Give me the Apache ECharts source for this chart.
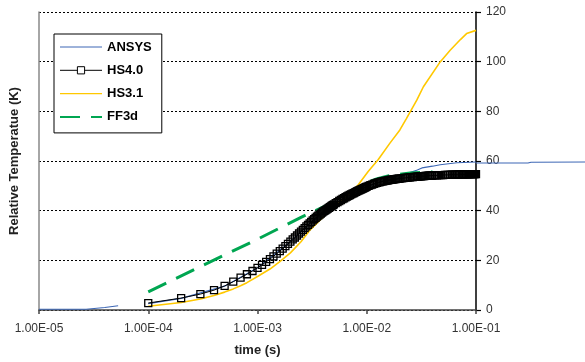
<!DOCTYPE html>
<html>
<head>
<meta charset="utf-8">
<script src="https://cdn.jsdelivr.net/npm/echarts@6/dist/echarts.min.js"></script>
<style>
  html, body { margin: 0; padding: 0; background: #fff; }
  #chart { width: 585px; height: 362px; }
</style>
</head>
<body>
<div id="chart"></div>
<script>
// Tick labels for the logarithmic time axis (one per decade, 1e-5 .. 1e-1)
const timeTickLabels = ['1.00E-05', '1.00E-04', '1.00E-03', '1.00E-02', '1.00E-01'];
const seriesNames = ['ANSYS', 'HS4.0', 'HS3.1', 'FF3d'];

// ANSYS: [time (s), relative temperature (K)]; null breaks the curve
const ansysData = [
  [1.0e-5, 0.3], [1.5e-5, 0.3], [2.0e-5, 0.3], [2.7e-5, 0.3], [4.0e-5, 1.0], [5.3e-5, 1.7],
  null,
  [1.0e-4, 2.6], [2.0e-4, 4.7], [5.0e-4, 9.6], [1.0e-3, 17.0], [2.0e-3, 27.5], [3.0e-3, 34.8],
  [5.0e-3, 42.5], [1.0e-2, 49.7], [1.4e-2, 51.9], [1.9e-2, 52.8], [2.2e-2, 54.5], [2.9e-2, 56.4],
  [3.2e-2, 57.2], [4.0e-2, 57.9], [4.7e-2, 58.5], [6.7e-2, 59.3], [0.1, 59.6]
];
// ANSYS run continues past the last labelled decade (drawn beyond the right axis)
const ansysTailData = [[0.1, 59.6], [0.3, 59.6], [0.32, 59.9], [1.0, 60.0]];

// HS4.0: [time (ms), relative temperature (K)]
const hs40Data = [
  [0.1, 2.8], [0.2, 4.8], [0.3, 6.4], [0.4, 8.0], [0.5, 9.7], [0.6, 11.4], [0.7, 13.0], [0.8, 14.4], [0.9, 15.7], [1.0, 17.0],
  [1.1, 18.2], [1.2, 19.4], [1.3, 20.5], [1.4, 21.6], [1.5, 22.7], [1.6, 23.7], [1.7, 24.7], [1.8, 25.7], [1.9, 26.6], [2.0, 27.5],
  [2.1, 28.4], [2.2, 29.2], [2.3, 30.0], [2.4, 30.8], [2.5, 31.6], [2.6, 32.3], [2.7, 33.0], [2.8, 33.7], [2.9, 34.3], [3.0, 34.9],
  [3.1, 35.5], [3.2, 36.1], [3.3, 36.6], [3.4, 37.1], [3.5, 37.6], [3.6, 38.0], [3.7, 38.4], [3.8, 38.8], [3.9, 39.2], [4.0, 39.6],
  [4.1, 39.9], [4.2, 40.2], [4.3, 40.5], [4.4, 40.8], [4.5, 41.1], [4.6, 41.4], [4.7, 41.7], [4.8, 42.0], [4.9, 42.2], [5.0, 42.5],
  [5.2, 43.0], [5.4, 43.4], [5.6, 43.9], [5.8, 44.3], [6.0, 44.7], [6.2, 45.0], [6.4, 45.4], [6.6, 45.7], [6.8, 46.0], [7.0, 46.3],
  [7.2, 46.6], [7.4, 46.9], [7.6, 47.1], [7.8, 47.4], [8.0, 47.6], [8.2, 47.9], [8.4, 48.1], [8.6, 48.3], [8.8, 48.5], [9.0, 48.7],
  [9.2, 48.9], [9.4, 49.1], [9.6, 49.3], [9.8, 49.5], [10, 49.7], [10.4, 50.0], [10.8, 50.3], [11.2, 50.5], [11.6, 50.8], [12.0, 51.0],
  [12.4, 51.2], [12.8, 51.4], [13.2, 51.5], [13.6, 51.7], [14.0, 51.8], [14.4, 51.9], [14.8, 52.0], [15.2, 52.1], [15.6, 52.2], [16.0, 52.3],
  [16.4, 52.4], [16.8, 52.5], [17.2, 52.5], [17.6, 52.6], [18.0, 52.7], [18.4, 52.7], [18.8, 52.8], [19.2, 52.8], [19.6, 52.9], [20, 52.9],
  [20.8, 53.0], [21.6, 53.1], [22.4, 53.2], [23.2, 53.3], [24.0, 53.3], [24.8, 53.4], [25.6, 53.5], [26.4, 53.5], [27.2, 53.6], [28.0, 53.6],
  [28.8, 53.7], [29.6, 53.7], [30.4, 53.8], [31.2, 53.8], [32.0, 53.9], [32.8, 53.9], [33.6, 53.9], [34.4, 54.0], [35.2, 54.0], [36.0, 54.0],
  [36.8, 54.1], [37.6, 54.1], [38.4, 54.1], [39.2, 54.1], [40, 54.1], [42, 54.2], [44, 54.2], [46, 54.3], [48, 54.3], [50, 54.3],
  [52, 54.4], [54, 54.4], [56, 54.4], [58, 54.4], [60, 54.5], [62, 54.5], [64, 54.5], [66, 54.5], [68, 54.5], [70, 54.6],
  [72, 54.6], [74, 54.6], [76, 54.6], [78, 54.6], [80, 54.6], [82, 54.6], [84, 54.6], [86, 54.7], [88, 54.7], [90, 54.7],
  [92, 54.7], [94, 54.7], [96, 54.7], [98, 54.7], [100, 54.7]
];

// HS3.1: [time (s), relative temperature (K)]
const hs31Data = [
  [1.0e-4, 1.5], [2.0e-4, 3.0], [3.0e-4, 4.4], [4.0e-4, 5.8], [5.0e-4, 7.2], [6.0e-4, 8.5], [7.0e-4, 9.8],
  [8.0e-4, 11.0], [1.0e-3, 13.5], [1.3e-3, 16.5], [1.6e-3, 19.5], [2.0e-3, 23.0], [2.5e-3, 27.5],
  [3.0e-3, 32.0], [4.0e-3, 37.5], [5.0e-3, 41.5], [6.0e-3, 44.3], [7.0e-3, 46.8], [8.4e-3, 50.5],
  [1.03e-2, 55.8], [1.27e-2, 60.5], [1.63e-2, 67.2], [2.01e-2, 72.5], [2.3e-2, 77.0], [2.87e-2, 84.5],
  [3.3e-2, 89.9], [4.7e-2, 99.9], [5.8e-2, 104.6], [7.2e-2, 108.9], [8.2e-2, 111.3], [0.1, 112.6]
];

// FF3d: [time (s), relative temperature (K)]
const ff3dData = [
  [1.0e-4, 7.3], [3.0e-4, 17.5], [1.0e-3, 28.5], [2.5e-3, 37.3], [5.0e-3, 43.5], [7.0e-3, 47.3],
  [1.0e-2, 51.2], [1.25e-2, 52.9], [1.6e-2, 54.1], [2.5e-2, 55.2], [4.0e-2, 55.6]
];

const FONT = '"Liberation Sans", Arial, sans-serif';
const ANSYS_BLUE = '#3d67b5';

// legend entries for plain lines carry no marker
const hiddenMarker = { color: 'rgba(0,0,0,0)', borderColor: 'rgba(0,0,0,0)', borderWidth: 0 };

const chart = echarts.init(document.getElementById('chart'), null, { renderer: 'canvas' });

chart.setOption({
  animation: false,
  backgroundColor: '#ffffff',
  grid: [
    { left: 39, right: 109, top: 12, bottom: 50, containLabel: false },
    // narrow strip to the right of the value axis, used by the ANSYS tail only
    { left: 476, right: 0, top: 12, bottom: 50, containLabel: false }
  ],
  legend: {
    data: [
      { name: 'ANSYS', itemStyle: hiddenMarker, lineStyle: { width: 1 } },
      { name: 'HS4.0', itemStyle: { color: '#fff', borderColor: '#000', borderWidth: 1 }, lineStyle: { width: 1 } },
      { name: 'HS3.1', itemStyle: hiddenMarker, lineStyle: { width: 1.4 } },
      { name: 'FF3d', itemStyle: hiddenMarker }
    ],
    orient: 'vertical',
    left: 54,
    top: 34,
    padding: [6.5, 10, 9.5, 5],
    itemGap: 10.3,
    itemWidth: 42,
    itemHeight: 9,
    backgroundColor: '#ffffff',
    borderColor: '#000000',
    borderWidth: 1,
    textStyle: { fontFamily: FONT, fontSize: 13, fontWeight: 'bold', color: '#000' }
  },
  xAxis: [
    {
      type: 'log',
      gridIndex: 0,
      logBase: 10,
      min: 1e-5,
      max: 1e-1,
      name: 'time (s)',
      nameLocation: 'middle',
      nameGap: 34,
      nameTextStyle: { fontFamily: FONT, fontSize: 13, fontWeight: 'bold', color: '#222' },
      axisLine: { show: true, onZero: false, lineStyle: { color: '#444', width: 1.5 } },
      axisTick: { show: true, inside: false, length: 4, lineStyle: { color: '#444', width: 1.5 } },
      minorTick: { show: false },
      splitLine: { show: false },
      axisLabel: {
        margin: 13,
        fontFamily: FONT, fontSize: 12, color: '#333',
        formatter: function (value) {
          const e = Math.round(Math.log10(value));
          return timeTickLabels[e + 5] || '';
        }
      }
    },
    {
      type: 'log',
      gridIndex: 1,
      logBase: 10,
      min: 0.1,
      max: 1,
      show: false
    }
  ],
  yAxis: [
    {
      type: 'value',
      gridIndex: 0,
      position: 'right',
      min: 0, max: 120, interval: 20,
      axisLine: { show: true, onZero: false, lineStyle: { color: '#000', width: 1.5 } },
      axisTick: { show: true, inside: false, length: 5, lineStyle: { color: '#000', width: 1.2 } },
      axisLabel: { margin: 10, fontFamily: FONT, fontSize: 12, color: '#333' },
      splitLine: { show: true, lineStyle: { color: '#000', width: 1, type: [2, 2] } }
    },
    {
      type: 'value',
      gridIndex: 0,
      position: 'left',
      min: 0, max: 120, interval: 20,
      name: 'Relative Temperatue (K)',
      nameLocation: 'middle',
      nameGap: 18,
      nameRotate: 90,
      nameTextStyle: { fontFamily: FONT, fontSize: 13, fontWeight: 'bold', color: '#222' },
      axisLine: { show: true, onZero: false, lineStyle: { color: '#888', width: 1.5 } },
      axisTick: { show: false },
      axisLabel: { show: false },
      splitLine: { show: false }
    },
    {
      type: 'value',
      gridIndex: 1,
      min: 0, max: 120,
      show: false
    }
  ],
  series: [
    {
      name: 'ANSYS',
      type: 'line',
      xAxisIndex: 0, yAxisIndex: 0,
      data: ansysData,
      connectNulls: false,
      symbol: 'none',
      z: 2,
      color: ANSYS_BLUE,
      lineStyle: { color: ANSYS_BLUE, width: 1.2 }
    },
    {
      name: 'ANSYS',
      type: 'line',
      xAxisIndex: 1, yAxisIndex: 2,
      data: ansysTailData,
      symbol: 'none',
      z: 2,
      color: ANSYS_BLUE,
      lineStyle: { color: ANSYS_BLUE, width: 1.2 }
    },
    {
      name: 'HS4.0',
      type: 'line',
      xAxisIndex: 0, yAxisIndex: 0,
      data: hs40Data.map(p => [p[0] / 1000, p[1]]),
      symbol: 'rect',
      symbolSize: 7,
      showSymbol: true,
      z: 6,
      color: '#000',
      lineStyle: { color: '#000', width: 1 },
      itemStyle: { color: 'rgba(255,255,255,0)', borderColor: '#000', borderWidth: 1.3 }
    },
    {
      name: 'HS3.1',
      type: 'line',
      xAxisIndex: 0, yAxisIndex: 0,
      data: hs31Data,
      symbol: 'none',
      z: 4,
      color: '#ffc800',
      lineStyle: { color: '#ffc800', width: 1.6 }
    },
    {
      name: 'FF3d',
      type: 'line',
      xAxisIndex: 0, yAxisIndex: 0,
      data: ff3dData,
      symbol: 'none',
      z: 3,
      color: '#00a651',
      lineStyle: { color: '#00a651', width: 3, type: [20, 11] }
    }
  ]
});
</script>
</body>
</html>
